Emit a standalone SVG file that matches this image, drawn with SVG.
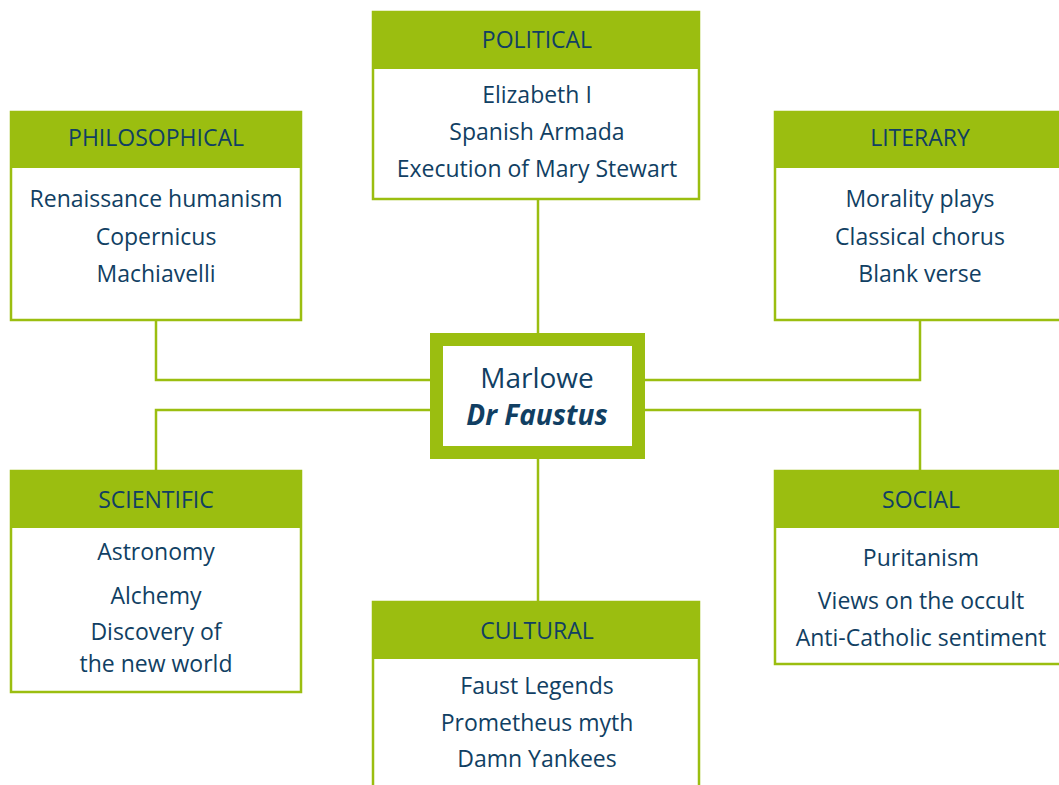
<svg xmlns="http://www.w3.org/2000/svg" width="1059" height="785" viewBox="0 0 1059 785">
<style>
.box{fill:#fff;stroke:#9bbe10;stroke-width:2.5}
.hdr{fill:#9bbe10}
.t{font-family:"Open Sans","Noto Sans",sans-serif;font-size:23px;fill:#113f63;text-anchor:middle}
.c{font-family:"Open Sans","Noto Sans",sans-serif;font-size:28px;fill:#113f63;text-anchor:middle}
.conn{fill:none;stroke:#9bbe10;stroke-width:2.5}
</style>
<rect width="1059" height="785" fill="#fff"/>
<g id="connectors">
<path class="conn" d="M538,200V333"/>
<path class="conn" d="M156,321V380H430"/>
<path class="conn" d="M920,321V380H645"/>
<path class="conn" d="M430,410H156V470"/>
<path class="conn" d="M645,410H920V470"/>
<path class="conn" d="M538,459V601"/>
</g>
<g id="political">
<rect class="box" x="373" y="12" width="326" height="187"/>
<rect class="hdr" x="372" y="11" width="328" height="58"/>
<text class="t" x="537" y="48">POLITICAL</text>
<text class="t" x="537" y="103">Elizabeth I</text>
<text class="t" x="537" y="140">Spanish Armada</text>
<text class="t" x="537" y="177">Execution of Mary Stewart</text>
</g>
<g id="philosophical">
<rect class="box" x="11" y="112" width="290" height="208"/>
<rect class="hdr" x="10" y="111" width="292" height="57"/>
<text class="t" x="156" y="146">PHILOSOPHICAL</text>
<text class="t" x="156" y="207">Renaissance humanism</text>
<text class="t" x="156" y="245">Copernicus</text>
<text class="t" x="156" y="282">Machiavelli</text>
</g>
<g id="literary">
<rect class="box" x="775" y="112" width="292" height="208"/>
<rect class="hdr" x="774" y="111" width="294" height="57"/>
<text class="t" x="920" y="146">LITERARY</text>
<text class="t" x="920" y="207">Morality plays</text>
<text class="t" x="920" y="245">Classical chorus</text>
<text class="t" x="920" y="282">Blank verse</text>
</g>
<g id="center">
<rect x="430" y="333" width="215" height="126" fill="#9bbe10"/>
<rect x="443" y="346" width="189" height="100" fill="#fff"/>
<text class="c" x="537" y="388">Marlowe</text>
<text class="c" x="537" y="425" font-weight="bold" font-style="italic">Dr Faustus</text>
</g>
<g id="scientific">
<rect class="box" x="11" y="471" width="290" height="221"/>
<rect class="hdr" x="10" y="470" width="292" height="58"/>
<text class="t" x="156" y="508">SCIENTIFIC</text>
<text class="t" x="156" y="560">Astronomy</text>
<text class="t" x="156" y="604">Alchemy</text>
<text class="t" x="156" y="640">Discovery of</text>
<text class="t" x="156" y="672">the new world</text>
</g>
<g id="social">
<rect class="box" x="775" y="471" width="292" height="193"/>
<rect class="hdr" x="774" y="470" width="294" height="58"/>
<text class="t" x="921" y="508">SOCIAL</text>
<text class="t" x="921" y="566">Puritanism</text>
<text class="t" x="921" y="609">Views on the occult</text>
<text class="t" x="921" y="646">Anti-Catholic sentiment</text>
</g>
<g id="cultural">
<rect class="box" x="373" y="602" width="326" height="200"/>
<rect class="hdr" x="372" y="601" width="328" height="58"/>
<text class="t" x="537" y="639">CULTURAL</text>
<text class="t" x="537" y="694">Faust Legends</text>
<text class="t" x="537" y="731">Prometheus myth</text>
<text class="t" x="537" y="767">Damn Yankees</text>
</g>
</svg>
